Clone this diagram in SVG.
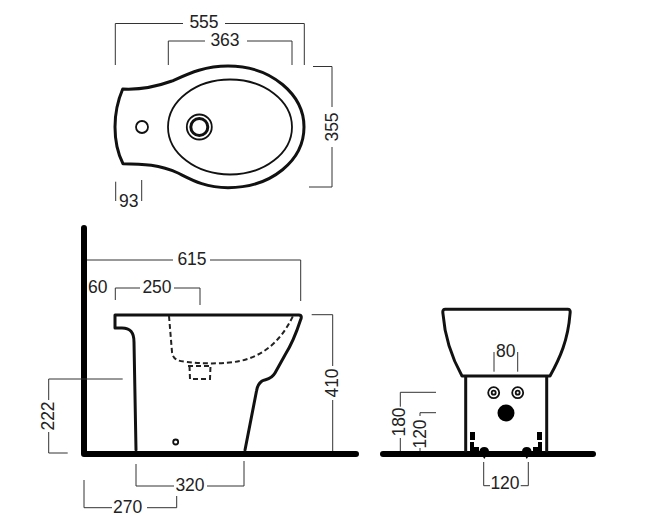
<svg xmlns="http://www.w3.org/2000/svg" width="650" height="517" viewBox="0 0 650 517">
<style>
.bg{fill:#fff}
.o{fill:none;stroke:#111;stroke-width:3;stroke-linecap:round;stroke-linejoin:round}
.t{fill:none;stroke:#111;stroke-width:1.8}
.d{fill:none;stroke:#333;stroke-width:1}
.w{fill:none;stroke:#000;stroke-width:6;stroke-linecap:round;stroke-linejoin:round}
.k{fill:none;stroke:#222;stroke-width:2;stroke-dasharray:5 3}
text{font-family:"Liberation Sans",Arial,sans-serif;font-size:17.500px;fill:#222;text-anchor:middle}
</style>
<rect class="bg" width="650" height="517"/>
<g id="top-view">
<path class="o" d="M122.700 89C140 90 158 86 172 81C190 73 205 66 228 66C272 66 304 95 304 127C304 160 272 187.700 228 187.700C205 187.700 192 180 178 173C160 165 143 163.700 123 163.700C117 152 115 140 115 127C115 113 118 100 122.700 89Z"/>
<ellipse class="t" cx="230" cy="127" rx="62" ry="47.500"/>
<circle class="t" cx="142" cy="127" r="6"/>
<circle class="t" cx="199.300" cy="127" r="12.500"/>
<circle class="o" cx="199.300" cy="127" r="8.500"/>
</g>
<g id="side-view">
<path class="w" d="M84 228V454H356"/>
<path class="o" d="M136 450L134 342C134 332 130 328 122 328H115V315H299C302 315 301.500 318 300.500 320C296 334 290 347 285 355L275 373C271 380 266 379 262 381C258 384 257 387 256.500 391L245 450"/>
<path class="k" d="M169 316L172 352C173 360 178 361 187 362C205 364 225 364 240 361C262 356 280 343 293 316"/>
<path class="k" d="M188 366H212M189.500 366L190 379H210L210.500 366"/>
<circle class="t" cx="175.700" cy="442" r="2.500"/>
</g>
<g id="front-view">
<path class="w" d="M383 454H593"/>
<path class="o" d="M445 309.300H568C570 309.300 570.500 311 570 314C568 340 560 358 550 376H462C452 358 445 340 443 314C442.500 311 443 309.300 445 309.300ZM465.700 376V451M546.700 376V451"/>
<circle class="t" cx="493.700" cy="392.700" r="5.500"/>
<circle class="t" cx="493.700" cy="392.700" r="2"/>
<circle class="t" cx="517.700" cy="392.700" r="5.500"/>
<circle class="t" cx="517.700" cy="392.700" r="2"/>
<circle cx="506" cy="413" r="8.500" fill="#000"/>
<g fill="#000">
<rect x="470" y="432" width="5" height="8"/><rect x="537" y="432" width="5" height="8"/>
<path d="M470 442H474V447H479V452H470Z"/><path d="M542 442H538V447H533V452H542Z"/>
<path d="M479.500 451A4.800 4.800 0 0 1 489 451L484.300 459Z"/><path d="M522 451A4.800 4.800 0 0 1 531.500 451L526.800 459Z"/>
</g>
</g>
<g id="connectors">
<path class="d" d="M115.300 65V23.500H183M225 23.500H304.300V65"/>
<path class="d" d="M168.300 65V41H205M247 41H292V65"/>
<path class="d" d="M313 66.500H332V107M332 147V187H309"/>
<path class="d" d="M115.700 181.700V201M141.700 180V201"/>
<path class="d" d="M87 260H173M210 260H300.700V301"/>
<path class="d" d="M115.300 300V288H140M174 288H200V305"/>
<path class="d" d="M311.700 314.700H332.700V366M332.700 400V451"/>
<path class="d" d="M122.700 379H48.700V400M48.700 432V453H67.700"/>
<path class="d" d="M136 464V486H174M207 486H244V461"/>
<path class="d" d="M84 480V507.700H112M147 507.700H176.700V496"/>
<path class="d" d="M494 352V371.700M517.700 352V371.700"/>
<path class="d" d="M436 392.300H400.300V406.700M400.300 438V451"/>
<path class="d" d="M436 412.700H420V416M420 448V451"/>
<path class="d" d="M483.700 462V485.700H490M520.700 485.700H528.300V462"/>
</g>
<g id="labels">
<text x="204" y="28">555</text>
<text x="225" y="46">363</text>
<text transform="translate(338 127) rotate(-90)">355</text>
<text x="128.700" y="207">93</text>
<text x="192" y="265">615</text>
<text x="97.700" y="293">60</text>
<text x="157" y="293">250</text>
<text transform="translate(338 383) rotate(-90)">410</text>
<text transform="translate(54 416) rotate(-90)">222</text>
<text x="190" y="491">320</text>
<text x="127.700" y="513">270</text>
<text x="505.700" y="357">80</text>
<text transform="translate(405 422) rotate(-90)">180</text>
<text transform="translate(425.700 434) rotate(-90)">120</text>
<text x="505" y="489">120</text>
</g>
</svg>
